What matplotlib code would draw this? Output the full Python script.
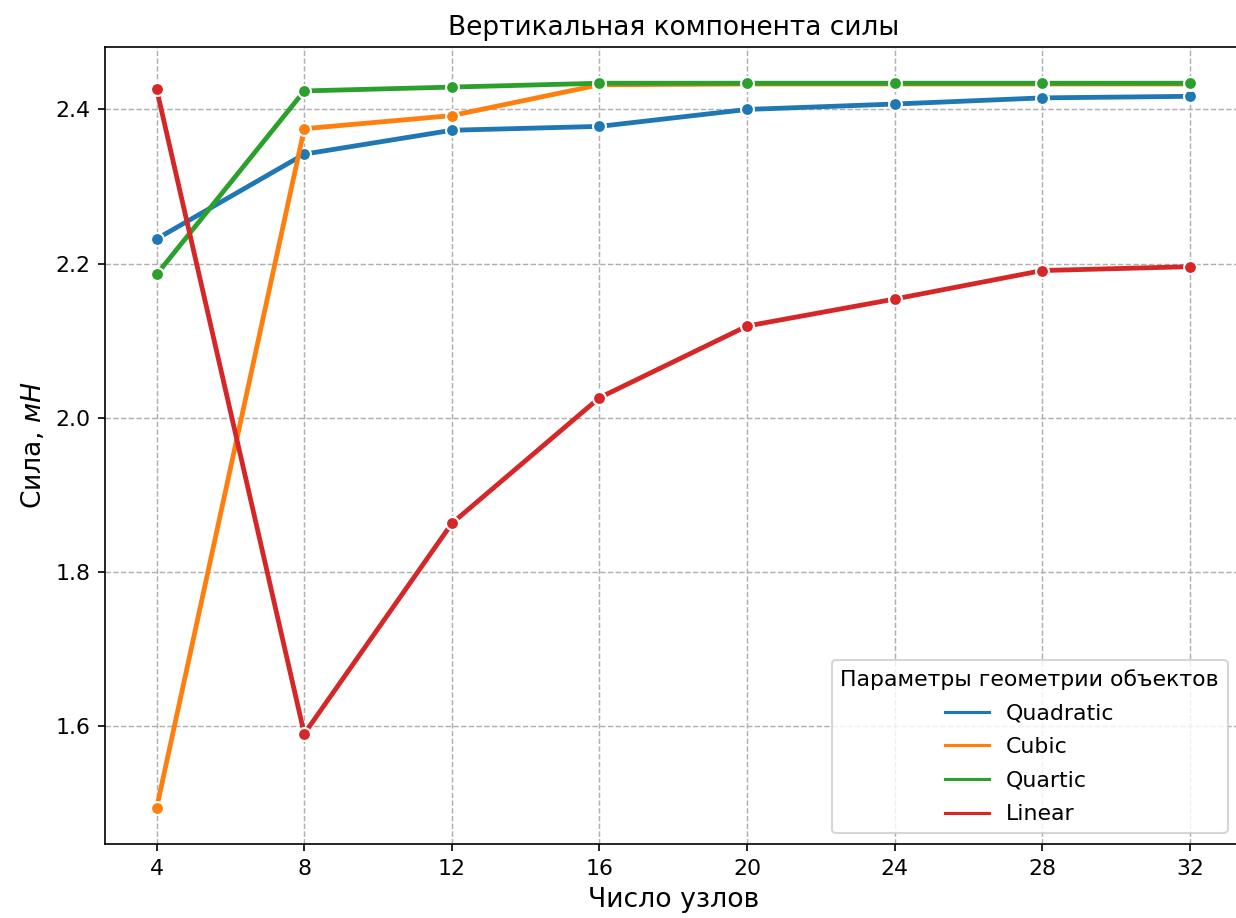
import matplotlib
matplotlib.use("Agg")
import matplotlib.pyplot as plt
from matplotlib.lines import Line2D

nodes = [4, 8, 12, 16, 20, 24, 28, 32]
series_names = ["Quadratic", "Cubic", "Quartic", "Linear"]
quadratic = [2.232, 2.342, 2.373, 2.378, 2.400, 2.407, 2.415, 2.417]
cubic = [1.494, 2.375, 2.392, 2.432, 2.433, 2.433, 2.433, 2.433]
quartic = [2.186, 2.424, 2.429, 2.434, 2.434, 2.434, 2.434, 2.434]
linear = [2.426, 1.590, 1.863, 2.026, 2.119, 2.154, 2.191, 2.196]
colors = ["#1f77b4", "#ff7f0e", "#2ca02c", "#d62728"]

dpi = 150
s = 1.055
fig = plt.figure(figsize=(1236 / dpi, 918 / dpi), dpi=dpi)
ax = fig.add_axes([105 / 1236, 1 - 844 / 918, (1241.6 - 105) / 1236, (844 - 47) / 918])

handles = []
for name, vals, c in zip(series_names, [quadratic, cubic, quartic, linear], colors):
    ax.plot(nodes, vals, color=c, lw=2.3, marker="o", ms=6.2,
            mec="w", mew=1.0, zorder=3)
    handles.append(Line2D([], [], color=c, lw=1.5))

ax.set_xticks(nodes)
ax.tick_params(labelsize=10 * s)
ax.grid(True, linestyle="--", color="#b0b0b0", lw=0.7)
ax.set_axisbelow(True)
ax.set_title("Вертикальная компонента силы", fontsize=12 * s)
ax.set_xlabel("Число узлов", fontsize=12.8)
ax.set_ylabel("Сила, $мН$", fontsize=12.8)
leg = ax.legend(handles, series_names, title="Параметры геометрии объектов",
                loc="lower right", bbox_to_anchor=(0.9975, 0.0), fontsize=10 * s,
                title_fontsize=10 * s, labelspacing=0.62)

fig.savefig("out.png", dpi=dpi)
